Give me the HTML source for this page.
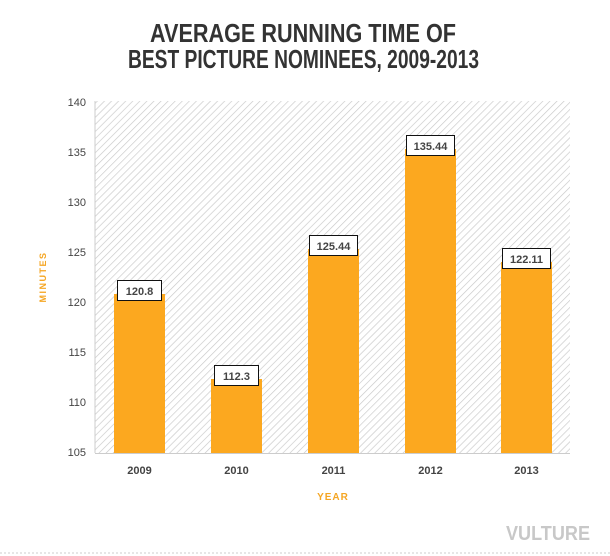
<!DOCTYPE html>
<html><head><style>html,body{margin:0;padding:0;background:#fff;}</style></head>
<body>
<svg width="610" height="556" xmlns="http://www.w3.org/2000/svg" style="display:block">
<defs>
<pattern id="h" patternUnits="userSpaceOnUse" width="5" height="5" patternTransform="rotate(45)">
<rect width="5" height="5" fill="#fff"/>
<line x1="0" y1="0" x2="0" y2="5" stroke="#c8c8c8" stroke-width="1.3"/>
</pattern>
</defs>
<g font-family="Liberation Sans, sans-serif" font-weight="bold" fill="#333">
<text x="150" y="42" font-size="26" textLength="306" lengthAdjust="spacingAndGlyphs">AVERAGE RUNNING TIME OF</text>
<text x="128" y="68" font-size="26" textLength="351" lengthAdjust="spacingAndGlyphs">BEST PICTURE NOMINEES, 2009-2013</text>
</g>
<rect x="95" y="101" width="475" height="352" fill="url(#h)"/>
<line x1="95" y1="101" x2="95" y2="453" stroke="#ccc"/>
<line x1="95" y1="453.5" x2="570" y2="453.5" stroke="#ccc"/>
<g font-family="Liberation Sans, sans-serif" font-size="11" fill="#444" text-anchor="end">
<text x="86" y="106">140</text><text x="86" y="156">135</text><text x="86" y="206">130</text>
<text x="86" y="256">125</text><text x="86" y="306">120</text><text x="86" y="356">115</text>
<text x="86" y="406">110</text><text x="86" y="456">105</text>
</g>
<text transform="translate(46,277) rotate(-90)" font-family="Liberation Sans, sans-serif" font-size="9" font-weight="bold" fill="#f5a623" text-anchor="middle" letter-spacing="1.5">MINUTES</text>
<g fill="#fca81f">
<rect x="114" y="294" width="51" height="159"/>
<rect x="211" y="379" width="51" height="74"/>
<rect x="308" y="249" width="51" height="204"/>
<rect x="405" y="149" width="51" height="304"/>
<rect x="501" y="262" width="51" height="191"/>
</g>
<g font-family="Liberation Sans, sans-serif" font-size="11" font-weight="bold" fill="#444" text-anchor="middle">
<rect x="117.5" y="280.5" width="44" height="20" fill="#fff" stroke="#111"/><text x="139.5" y="295">120.8</text>
<rect x="214.5" y="365.5" width="44" height="20" fill="#fff" stroke="#111"/><text x="236.5" y="380">112.3</text>
<rect x="309.5" y="235.5" width="48" height="20" fill="#fff" stroke="#111"/><text x="333.5" y="250">125.44</text>
<rect x="406.5" y="135.5" width="48" height="20" fill="#fff" stroke="#111"/><text x="430.5" y="150">135.44</text>
<rect x="502.5" y="248.5" width="48" height="20" fill="#fff" stroke="#111"/><text x="526.5" y="263">122.11</text>
<text x="139.5" y="474">2009</text><text x="236.5" y="474">2010</text><text x="333.5" y="474">2011</text>
<text x="430.5" y="474">2012</text><text x="526.5" y="474">2013</text>
</g>
<text x="333" y="500" font-family="Liberation Sans, sans-serif" font-size="10" font-weight="bold" fill="#f5a623" text-anchor="middle" letter-spacing="1">YEAR</text>
<text x="590" y="540" font-family="Liberation Sans, sans-serif" font-size="20" font-weight="bold" fill="#c8c8c8" text-anchor="end" textLength="84" lengthAdjust="spacingAndGlyphs">VULTURE</text>
<line x1="0" y1="553" x2="610" y2="553" stroke="#ccc" stroke-dasharray="2,2"/>
</svg>
</body></html>
